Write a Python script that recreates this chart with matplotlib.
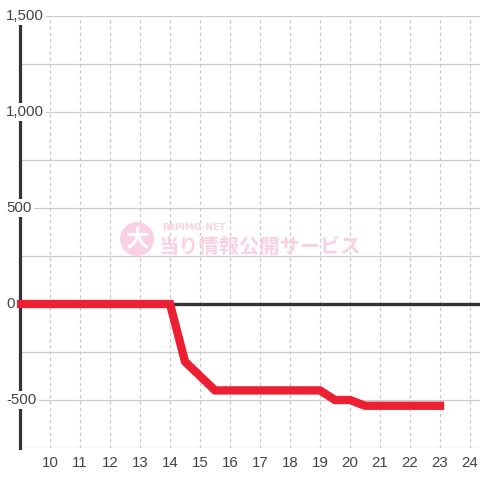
import matplotlib
matplotlib.use("Agg")
import matplotlib.pyplot as plt
from matplotlib.patches import Circle
import matplotlib.transforms as mtransforms

# data
hours = [9, 14, 14.5, 15, 15.5, 19, 19.5, 20, 20.5, 23]
values = [0, 0, -300, -375, -450, -450, -500, -500, -530, -530]
x_ticks = list(range(10, 25))
y_label_vals = [1500, 1000, 500, 0, -500]
y_label_txt = ["1,500", "1,000", "500", "0", "-500"]
y_grid = [1500, 1250, 1000, 750, 500, 250, -250, -500, -750]

plt.rcParams['font.family'] = ['Liberation Sans', 'DejaVu Sans']

fig = plt.figure(figsize=(4.8, 4.8), dpi=100)
fig.patch.set_facecolor('white')
W = H = 480.0
ax = fig.add_axes([20 / W, (480 - 448) / H, 460 / W, (448 - 16) / H])
ax.set_facecolor('white')
ax.set_xlim(9, 24.333)
ax.set_ylim(-750, 1500)

for s in ['top', 'right', 'bottom']:
    ax.spines[s].set_visible(False)
ax.spines['left'].set_color('#333333')
ax.spines['left'].set_linewidth(2.3)
ax.spines['left'].set_zorder(3)

for g in y_grid:
    ax.axhline(g, color='#cccccc', lw=0.9, zorder=1)
for xt in x_ticks:
    ax.axvline(xt, color='#c8c8c8', lw=0.9, ls=(0, (2.6, 2.4)), zorder=1)
ax.axhline(0, color='#333333', lw=2.4, zorder=2)

ax.set_xticks(x_ticks)
ax.set_xticklabels([str(v) for v in x_ticks], fontsize=10.8, color='#444444')
ax.tick_params(axis='x', length=0, pad=6)
ax.set_yticks([])

trans = mtransforms.blended_transform_factory(fig.transFigure, ax.transData)
for v, t in zip(y_label_vals, y_label_txt):
    ax.text(6 / W, v, t, transform=trans, ha='left', va='center', fontsize=10.8,
            color='#444444', zorder=5,
            bbox=dict(boxstyle='square,pad=0.15', fc='white', ec='none'))

# watermark
pink = '#fad0e3'
circ = Circle((137 / W, 1 - 239 / H), 17 / W, transform=fig.transFigure,
              facecolor=pink, edgecolor='none', zorder=0)
fig.patches.append(circ)
fig.text(137 / W, 1 - 240 / H, '大', fontsize=17, color='white', weight='bold',
         ha='center', va='center', family=['Noto Sans CJK JP', 'DejaVu Sans'])
fig.text(162 / W, 1 - 227 / H, 'PAPIMO-NET', fontsize=6.5, color=pink, weight='bold',
         ha='left', va='center', family=['DejaVu Sans'])
fig.text(159 / W, 1 - 246 / H, '当り情報公開サービス', fontsize=14.6, color=pink,
         weight='bold', ha='left', va='center',
         family=['Noto Sans CJK JP', 'DejaVu Sans'])

ax.plot(hours, values, color='#ed1f33', lw=6.0, solid_capstyle='projecting',
        solid_joinstyle='miter', zorder=4, clip_on=False)

fig.savefig('out.png', dpi=100)
